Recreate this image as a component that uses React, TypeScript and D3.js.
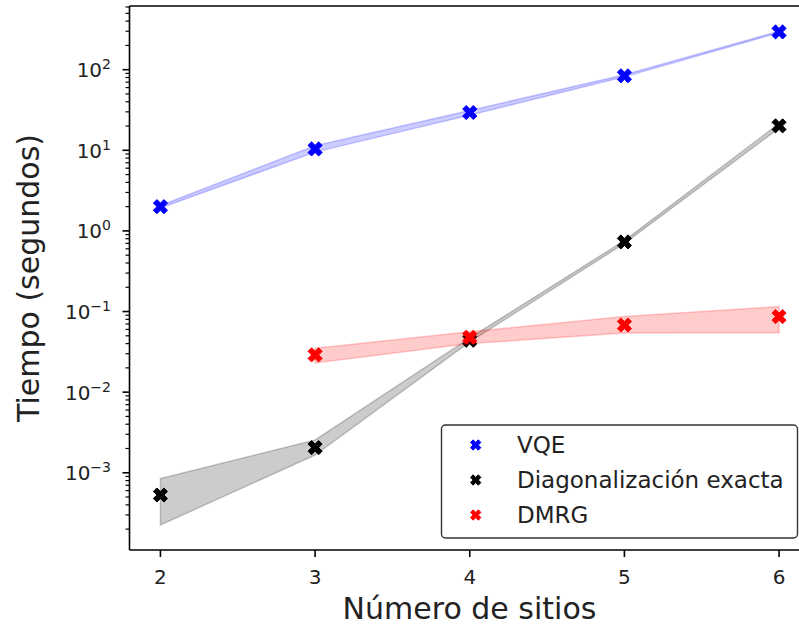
import React from "react";
import * as d3 from "d3";

const sites = [2, 3, 4, 5, 6];

const vqeMean = [2.0, 10.4, 29.4, 84, 294];
const vqeLow = [1.93, 9.5, 27.3, 81.5, 288];
const vqeHigh = [2.07, 11.4, 31.2, 86.5, 300];

const exactMean = [5.3e-4, 2.05e-3, 0.044, 0.73, 20.1];
const exactLow = [2.25e-4, 1.66e-3, 0.042, 0.70, 18.8];
const exactHigh = [8.5e-4, 2.55e-3, 0.047, 0.76, 21.5];

const dmrgSites = [3, 4, 5, 6];
const dmrgMean = [0.029, 0.048, 0.068, 0.0865];
const dmrgLow = [0.023, 0.040, 0.054, 0.0547];
const dmrgHigh = [0.035, 0.056, 0.0865, 0.115];

const xTicks = [2, 3, 4, 5, 6];
const yTickExps = [-3, -2, -1, 0, 1, 2];

const seriesNames = ["VQE", "Diagonalización exacta", "DMRG"];
const seriesColors = ["#0000ff", "#000000", "#ff0000"];

const W = 799;
const H = 628;
const FONT = "DejaVu Sans, Liberation Sans, sans-serif";

function xMarker(cx: number, cy: number, s: number) {
  const pts = [
    [-1, -3], [1, -3], [1, -1], [3, -1], [3, 1], [1, 1],
    [1, 3], [-1, 3], [-1, 1], [-3, 1], [-3, -1], [-1, -1],
  ].map(([x, y]) => {
    const px = (x / 6) * s;
    const py = (y / 6) * s;
    const r = Math.SQRT1_2;
    return [cx + (px - py) * r, cy + (px + py) * r];
  });
  return "M" + pts.map((p) => p[0].toFixed(2) + "," + p[1].toFixed(2)).join("L") + "Z";
}

export default function App() {
  const x = d3.scaleLinear().domain([1.8, 6.2]).range([129.5, 810]);
  const y = d3.scaleLog().domain([Math.pow(10, -3.958), Math.pow(10, 2.79)]).range([550, 6]);

  const area = (xs: number[], lo: number[], hi: number[]) =>
    d3
      .area<number>()
      .x((_, i) => x(xs[i]))
      .y0((_, i) => y(lo[i]))
      .y1((_, i) => y(hi[i]))(xs) as string;

  const series = [
    { xs: sites, mean: vqeMean, lo: vqeLow, hi: vqeHigh, color: seriesColors[0] },
    { xs: sites, mean: exactMean, lo: exactLow, hi: exactHigh, color: seriesColors[1] },
    { xs: dmrgSites, mean: dmrgMean, lo: dmrgLow, hi: dmrgHigh, color: seriesColors[2] },
  ];

  const minorTicks: number[] = [];
  for (let e = -4; e <= 2; e++) {
    for (let m = 2; m <= 9; m++) {
      const v = m * Math.pow(10, e);
      const py = y(v);
      if (py >= 6 && py <= 550) minorTicks.push(v);
    }
  }

  const legendX = 441.5;
  const legendY = 425;
  const legendW = 356;
  const legendH = 113;

  return (
    <div style={{ position: "absolute", left: 0, top: 0 }}>
      <svg width={W} height={H} style={{ display: "block", background: "#fff" }}>
        <defs>
          <clipPath id="plotclip">
            <rect x={129.5} y={6} width={681} height={544} />
          </clipPath>
        </defs>
        <g clipPath="url(#plotclip)">
          {series.map((s, si) => (
            <g key={si}>
              <path
                d={area(s.xs, s.lo, s.hi)}
                fill={s.color}
                fillOpacity={0.2}
                stroke={s.color}
                strokeOpacity={0.2}
                strokeWidth={1.5}
              />
              {s.xs.map((xv, i) => (
                <path key={i} d={xMarker(x(xv), y(s.mean[i]), 15)} fill={s.color} stroke={s.color} strokeWidth={1} />
              ))}
            </g>
          ))}
        </g>

        {/* spines */}
        <line x1={129.5} x2={810} y1={6} y2={6} stroke="#000" strokeWidth={1.6} />
        <line x1={129.5} x2={810} y1={550} y2={550} stroke="#000" strokeWidth={1.6} />
        <line x1={129.5} x2={129.5} y1={6} y2={550} stroke="#000" strokeWidth={1.6} />

        {/* x ticks */}
        {xTicks.map((t) => (
          <g key={t}>
            <line x1={x(t)} x2={x(t)} y1={550} y2={557} stroke="#000" strokeWidth={1.6} />
            <text x={x(t)} y={584} textAnchor="middle" fontFamily={FONT} fontSize={20} fill="#222">
              {t}
            </text>
          </g>
        ))}

        {/* y minor ticks */}
        {minorTicks.map((v, i) => (
          <line key={i} x1={125.5} x2={129.5} y1={y(v)} y2={y(v)} stroke="#000" strokeWidth={1.2} />
        ))}
        {/* y major ticks */}
        {yTickExps.map((e) => {
          const py = y(Math.pow(10, e));
          return (
            <g key={e}>
              <line x1={122.5} x2={129.5} y1={py} y2={py} stroke="#000" strokeWidth={1.6} />
              <text x={111} y={py + 7.5} textAnchor="end" fontFamily={FONT} fontSize={20} fill="#222">
                <tspan>10</tspan>
                <tspan dy={-8} fontSize={14}>
                  {e < 0 ? "\u2212" + Math.abs(e) : String(e)}
                </tspan>
              </text>
            </g>
          );
        })}

        {/* axis labels */}
        <text x={469.5} y={619} textAnchor="middle" fontFamily={FONT} fontSize={30} fill="#222">
          Número de sitios
        </text>
        <text
          transform="translate(39,278) rotate(-90)"
          textAnchor="middle"
          fontFamily={FONT}
          fontSize={30}
          fill="#222"
        >
          Tiempo (segundos)
        </text>

        {/* legend */}
        <rect
          x={legendX}
          y={legendY}
          width={legendW}
          height={legendH}
          rx={4}
          ry={4}
          fill="#fff"
          fillOpacity={0.8}
          stroke="#333"
          strokeWidth={1.4}
        />
        {seriesNames.map((name, i) => {
          const ry = 445 + i * 35;
          return (
            <g key={name}>
              <path d={xMarker(475.7, ry, 11)} fill={seriesColors[i]} stroke={seriesColors[i]} strokeWidth={1} />
              <text x={517} y={ry + 8} fontFamily={FONT} fontSize={23} fill="#222">
                {name}
              </text>
            </g>
          );
        })}
      </svg>
    </div>
  );
}
